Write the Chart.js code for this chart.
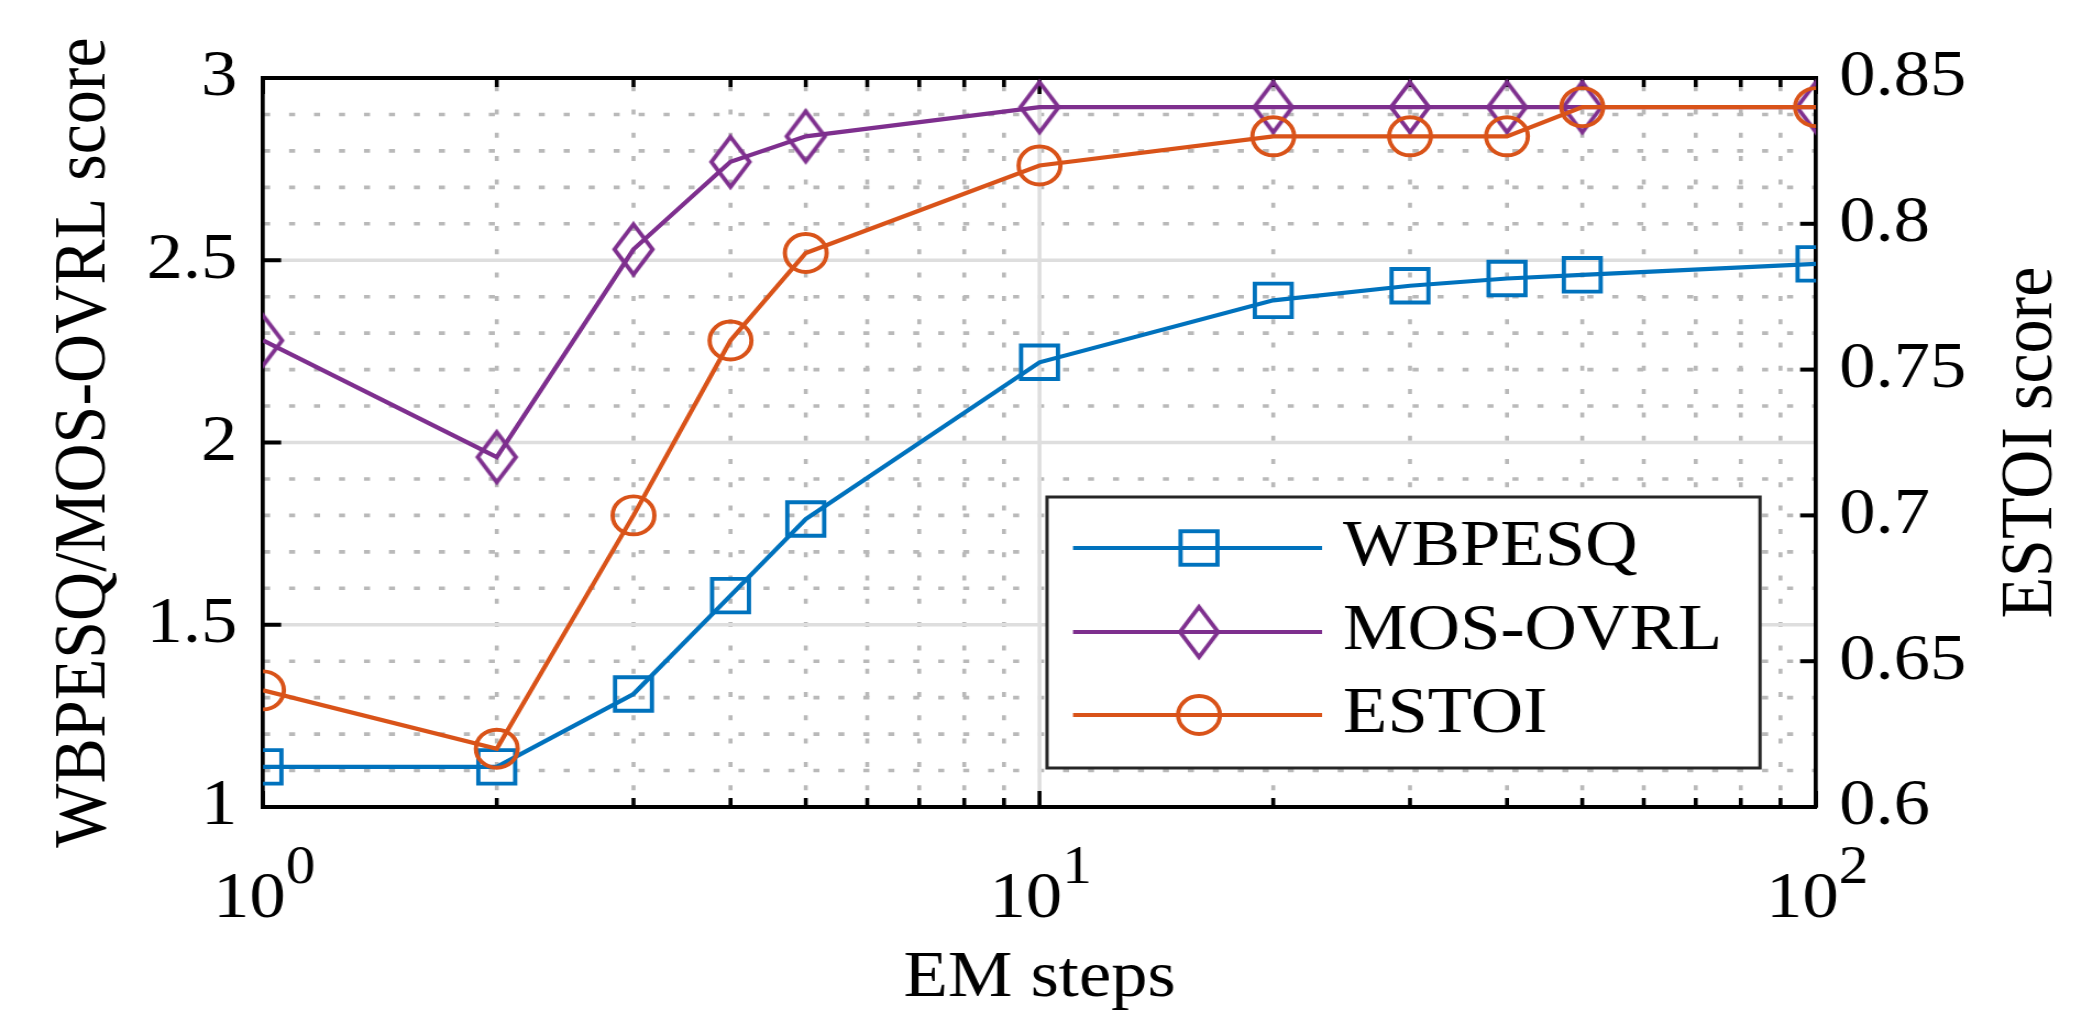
<!DOCTYPE html>
<html>
<head>
<meta charset="utf-8">
<script src="https://cdn.jsdelivr.net/npm/chart.js@4.4.1/dist/chart.umd.min.js"></script>
<style>
  html, body { margin: 0; padding: 0; background: #ffffff; overflow: hidden; }
  #wrap { position: absolute; left: 0; top: 0; width: 1903px; height: 1016px;
          transform: scaleX(1.09985); transform-origin: 0 0; }
  canvas { display: block; }
</style>
</head>
<body>
<div id="wrap"><canvas id="c" width="1903" height="1016" style="width:1903px;height:1016px"></canvas></div>
<script>
// ---------------- data ----------------
const emSteps = [1, 2, 3, 4, 5, 10, 20, 30, 40, 50, 100];
const wbpesq  = [1.11, 1.11, 1.31, 1.58, 1.79, 2.22, 2.39, 2.43, 2.45, 2.46, 2.49];
const mosOvrl = [2.28, 1.96, 2.53, 2.77, 2.84, 2.92, 2.92, 2.92, 2.92, 2.92, 2.92];
const estoi   = [0.64, 0.62, 0.70, 0.76, 0.79, 0.82, 0.83, 0.83, 0.83, 0.84, 0.84];
const seriesNames = ['WBPESQ', 'MOS-OVRL', 'ESTOI'];
const leftTicks  = [1, 1.5, 2, 2.5, 3];
const rightTicks = [0.6, 0.65, 0.7, 0.75, 0.8, 0.85];
const xMajorTicks = [1, 10, 100];
const xTickBase = '10';
const xTickExps = ['0', '1', '2'];
const xMinorTicks = [2, 3, 4, 5, 6, 7, 8, 9, 20, 30, 40, 50, 60, 70, 80, 90];
const leftMinorGrid = [1.1, 1.2, 1.3, 1.4, 1.6, 1.7, 1.8, 1.9, 2.1, 2.2, 2.3, 2.4, 2.6, 2.7, 2.8, 2.9];
const xTitle = 'EM steps';
const leftTitle = 'WBPESQ/MOS-OVRL score';
const rightTitle = 'ESTOI score';

// ---------------- styles ----------------
const FONT = "'Liberation Serif', 'Times New Roman', Times, serif";
const SX = 2093 / 1903;
const BLUE = '#0072BD', PURPLE = '#7E2F8E', ORANGE = '#D95319';
const MAJOR_GRID = '#dedede', MINOR_GRID = '#b9b9b9';
const LW = 4.2;

function makeDiamond(color, hw, hh, lw) {
  const c = document.createElement('canvas');
  c.width = 2 * Math.ceil(hw + 2 * lw);
  c.height = 2 * Math.ceil(hh + 3 * lw);
  const g = c.getContext('2d');
  const cx = c.width / 2, cy = c.height / 2;
  g.strokeStyle = color; g.lineWidth = lw; g.lineJoin = 'miter';
  g.beginPath();
  g.moveTo(cx, cy - hh); g.lineTo(cx + hw, cy); g.lineTo(cx, cy + hh); g.lineTo(cx - hw, cy);
  g.closePath(); g.stroke();
  return c;
}
const diamondImg = makeDiamond(PURPLE, 17.3, 25, 3.9);

function pts(ys) { return emSteps.map((x, i) => ({ x: x, y: ys[i] })); }

const common = { borderWidth: LW, pointBorderWidth: 3.9, pointBackgroundColor: 'rgba(0,0,0,0)',
                 tension: 0, clip: 0, pointHoverRadius: 0, fill: false };

const datasets = [
  Object.assign({ label: seriesNames[0], data: pts(wbpesq), yAxisID: 'y', borderColor: BLUE,
    pointBorderColor: BLUE, pointStyle: 'rect', pointRadius: 23.7, order: 3 }, common),
  Object.assign({ label: seriesNames[1], data: pts(mosOvrl), yAxisID: 'y', borderColor: PURPLE,
    pointBorderColor: PURPLE, pointStyle: diamondImg, pointRadius: 20, order: 2 }, common),
  Object.assign({ label: seriesNames[2], data: pts(estoi), yAxisID: 'y1', borderColor: ORANGE,
    pointBorderColor: ORANGE, pointStyle: 'circle', pointRadius: 19, order: 1 }, common)
];

// ---------------- plugins ----------------
const gridPlugin = {
  id: 'matlabGrid',
  beforeDraw(chart) {
    const { ctx, chartArea: a } = chart;
    const x = chart.scales.x, y = chart.scales.y;
    ctx.save();
    // minor horizontal dotted
    ctx.strokeStyle = MINOR_GRID; ctx.lineWidth = 3.6;
    ctx.setLineDash([5.5, 17.2]); ctx.lineDashOffset = -1;
    for (const v of leftMinorGrid) {
      const py = y.getPixelForValue(v);
      ctx.beginPath(); ctx.moveTo(a.left, py); ctx.lineTo(a.right, py); ctx.stroke();
    }
    // minor vertical dotted
    ctx.setLineDash([5, 18.3]); ctx.lineDashOffset = -8.2;
    for (const v of xMinorTicks) {
      const px = x.getPixelForValue(v);
      ctx.beginPath(); ctx.moveTo(px, a.top); ctx.lineTo(px, a.bottom); ctx.stroke();
    }
    // major solid
    ctx.setLineDash([]); ctx.strokeStyle = MAJOR_GRID; ctx.lineWidth = 3.6;
    for (const v of leftTicks.slice(1, -1)) {
      const py = y.getPixelForValue(v);
      ctx.beginPath(); ctx.moveTo(a.left, py); ctx.lineTo(a.right, py); ctx.stroke();
    }
    for (const v of xMajorTicks.slice(1, -1)) {
      const px = x.getPixelForValue(v);
      ctx.beginPath(); ctx.moveTo(px, a.top); ctx.lineTo(px, a.bottom); ctx.stroke();
    }
    ctx.restore();
  },
  beforeDatasetsDraw(chart) {
    const { ctx, chartArea: a } = chart;
    const x = chart.scales.x, y = chart.scales.y, y1 = chart.scales.y1;
    ctx.save();
    ctx.strokeStyle = '#000'; ctx.setLineDash([]);
    // top box line
    ctx.lineWidth = 4;
    ctx.beginPath(); ctx.moveTo(a.left - 1.85, a.top); ctx.lineTo(a.right + 1.85, a.top); ctx.stroke();
    // y ticks (inward)
    for (const v of leftTicks) {
      const py = y.getPixelForValue(v);
      ctx.beginPath(); ctx.moveTo(a.left, py); ctx.lineTo(a.left + 16.5, py); ctx.stroke();
    }
    for (const v of rightTicks) {
      const py = y1.getPixelForValue(v);
      ctx.beginPath(); ctx.moveTo(a.right, py); ctx.lineTo(a.right - 14.5, py); ctx.stroke();
    }
    // x ticks (inward, bottom and top)
    ctx.lineWidth = 3.6;
    const drawX = (v, len) => {
      const px = x.getPixelForValue(v);
      ctx.beginPath(); ctx.moveTo(px, a.bottom); ctx.lineTo(px, a.bottom - len); ctx.stroke();
      ctx.beginPath(); ctx.moveTo(px, a.top); ctx.lineTo(px, a.top + len); ctx.stroke();
    };
    for (const v of xMajorTicks) drawX(v, 16);
    for (const v of xMinorTicks) drawX(v, 9);
    ctx.restore();
  },
  afterDraw(chart) {
    const { ctx, chartArea: a } = chart;
    const x = chart.scales.x, y1 = chart.scales.y1;
    ctx.save();
    ctx.fillStyle = '#000';
    // x tick labels 10^n
    xMajorTicks.forEach((v, i) => {
      const px = x.getPixelForValue(v);
      const exp = xTickExps[i];
      ctx.font = '66px ' + FONT; const w1 = ctx.measureText(xTickBase).width;
      ctx.font = '54px ' + FONT; const w2 = ctx.measureText(exp).width;
      const x0 = px - (w1 + w2) / 2 + 1;
      ctx.textAlign = 'left'; ctx.textBaseline = 'alphabetic';
      ctx.font = '66px ' + FONT; ctx.fillText(xTickBase, x0, a.bottom + 110);
      ctx.font = '54px ' + FONT; ctx.fillText(exp, x0 + w1, a.bottom + 76);
    });
    // right axis title (reads bottom-to-top)
    ctx.save();
    ctx.translate(y1.right - 55.5, (y1.top + y1.bottom) / 2);
    ctx.rotate(-Math.PI / 2);
    ctx.textAlign = 'center'; ctx.textBaseline = 'middle';
    ctx.font = '68px ' + FONT;
    ctx.fillText(y1.options.title.text, 0, 0);
    ctx.restore();
    // legend
    const L = 1047 / SX, R = 1760 / SX, T = 497, B = 768;
    const rows = [548, 632, 715];
    const lx0 = 1073 / SX, lx1 = 1322 / SX, mx = 1199 / SX, tx = 1343 / SX;
    ctx.fillStyle = '#ffffff'; ctx.fillRect(L, T, R - L, B - T);
    ctx.strokeStyle = '#262626'; ctx.lineWidth = 3; ctx.strokeRect(L, T, R - L, B - T);
    chart.data.datasets.forEach((ds, i) => {
      const yy = rows[i];
      ctx.strokeStyle = ds.borderColor; ctx.lineWidth = ds.borderWidth;
      ctx.beginPath(); ctx.moveTo(lx0, yy); ctx.lineTo(lx1, yy); ctx.stroke();
      const st = ds.pointStyle;
      if (typeof st === 'object') {
        ctx.drawImage(st, mx - st.width / 2, yy - st.height / 2);
      } else if (st === 'rect') {
        const s = Math.SQRT1_2 * ds.pointRadius;
        ctx.lineWidth = ds.pointBorderWidth;
        ctx.strokeRect(mx - s, yy - s, 2 * s, 2 * s);
      } else {
        ctx.lineWidth = ds.pointBorderWidth;
        ctx.beginPath(); ctx.arc(mx, yy, ds.pointRadius, 0, Math.PI * 2); ctx.stroke();
      }
      ctx.fillStyle = '#000'; ctx.font = '66px ' + FONT;
      ctx.textAlign = 'left'; ctx.textBaseline = 'middle';
      ctx.fillText(ds.label, tx, yy);
    });
    ctx.restore();
  }
};

Chart.defaults.font.family = FONT;
Chart.defaults.color = '#000';

new Chart(document.getElementById('c'), {
  type: 'line',
  data: { datasets: datasets },
  options: {
    responsive: false,
    animation: false,
    devicePixelRatio: 1,
    events: [],
    layout: { padding: { top: 78, left: 0, right: 0, bottom: 0 } },
    plugins: { legend: { display: false }, tooltip: { enabled: false } },
    scales: {
      x: {
        type: 'logarithmic', position: 'bottom', min: 1, max: 100,
        grid: { display: false, drawTicks: false },
        border: { display: true, color: '#000', width: 4 },
        ticks: { display: false },
        title: { display: true, text: xTitle, color: '#000',
                 font: { family: FONT, size: 66, lineHeight: 1.1 },
                 padding: { top: 0, bottom: 1 } },
        afterFit: (s) => { s.height = 209; }
      },
      y: {
        type: 'linear', position: 'left', min: 1, max: 3,
        afterBuildTicks: (s) => { s.ticks = leftTicks.map(v => ({ value: v })); },
        ticks: { color: '#000', font: { family: FONT, size: 66 }, padding: 23.5,
                 callback: (v) => String(v) },
        grid: { display: false, drawTicks: false },
        border: { display: true, color: '#000', width: 3.7 },
        title: { display: true, text: leftTitle, color: '#000', font: { family: FONT, size: 68 },
                 padding: { top: 36.3, bottom: 0 } },
        afterFit: (s) => { s.width = 263 / SX; }
      },
      y1: {
        type: 'linear', position: 'right', min: 0.6, max: 0.85,
        afterBuildTicks: (s) => { s.ticks = rightTicks.map(v => ({ value: v })); },
        ticks: { color: '#000', font: { family: FONT, size: 66 }, padding: 21,
                 callback: (v) => String(v) },
        grid: { display: false, drawTicks: false },
        border: { display: true, color: '#000', width: 3.7 },
        title: { display: false, text: rightTitle },
        afterFit: (s) => { s.width = 1903 - 1816 / SX; }
      }
    }
  },
  plugins: [gridPlugin]
});
</script>
</body>
</html>
